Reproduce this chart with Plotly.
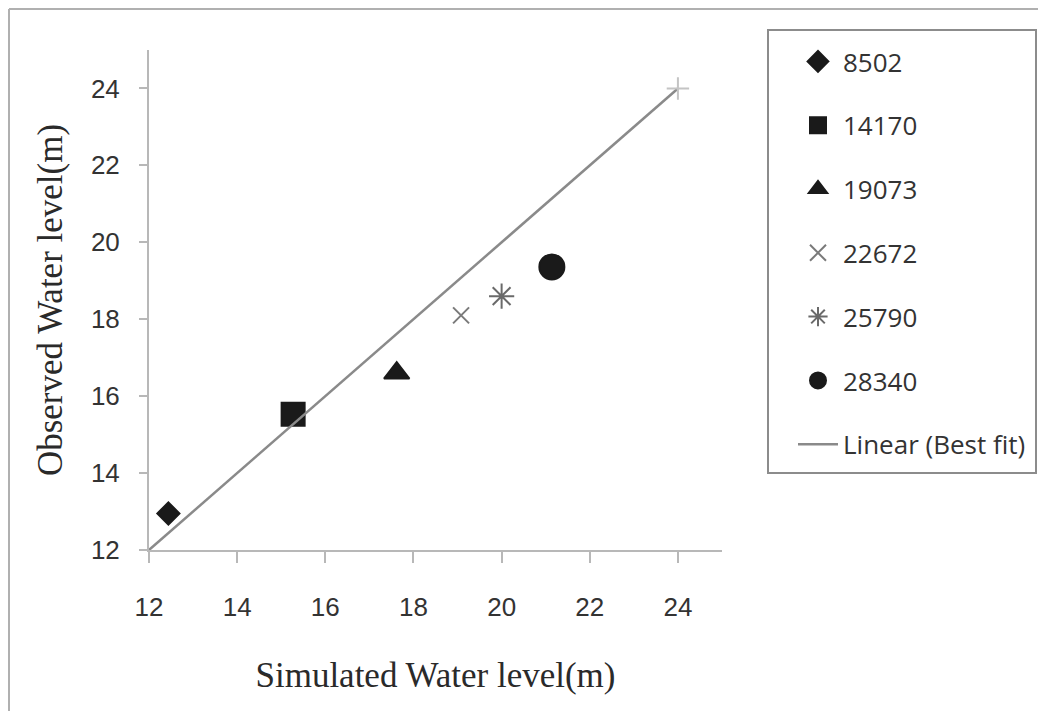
import plotly.graph_objects as go

# Data
series_names = ["8502", "14170", "19073", "22672", "25790", "28340"]
sim_x = [12.44, 15.27, 17.62, 19.08, 20.0, 21.14]
obs_y = [12.95, 15.53, 16.6, 18.1, 18.6, 19.36]
symbols = ["diamond", "square", "triangle-up", "x-thin-open", "asterisk-open", "circle"]
sizes = [17, 23, 22, 16, 21, 25]
colors = ["#1a1a1a", "#1a1a1a", "#1a1a1a", "#7a7a7a", "#6a6a6a", "#1a1a1a"]

fit_name = "Linear (Best fit)"
fit_x = [12, 24]
fit_y = [12, 24]

x_ticks = [12, 14, 16, 18, 20, 22, 24]
y_ticks = [12, 14, 16, 18, 20, 22, 24]

fig = go.Figure()

for i, name in enumerate(series_names):
    fig.add_trace(go.Scatter(
        x=[sim_x[i]], y=[obs_y[i]], mode="markers", name=name,
        legendgroup=name,
        marker=dict(symbol=symbols[i], size=sizes[i], color=colors[i],
                    line=dict(color=colors[i], width=2)),
    ))

fig.add_trace(go.Scatter(
    x=fit_x, y=fit_y, mode="lines", name=fit_name, legendgroup=fit_name,
    line=dict(color="#8a8a8a", width=2.5),
))
fig.add_trace(go.Scatter(
    x=[fit_x[-1]], y=[fit_y[-1]], mode="markers", showlegend=False,
    marker=dict(symbol="cross-thin-open", size=16, color="#c4c4c4",
                line=dict(color="#c4c4c4", width=2)),
    hoverinfo="skip",
))

axis_common = dict(
    showgrid=False, zeroline=False, showline=True, linecolor="#b8b8b8", linewidth=2,
    ticks="outside", tickcolor="#b8b8b8", tickwidth=2,
    tickfont=dict(family="Liberation Sans, Arial, sans-serif", size=26, color="#333333"),
    title_font=dict(family="Liberation Serif, Times New Roman, serif", color="#2a2a2a"),
)

# the page body adds an 8 px offset; the plot area sits at x 149..722, y 50..550 on screen
OFF = 8
PL, PT = 149, 50
PW, PH = 573, 500


def px_x(x):
    return (x - PL) / PW


def px_y(y):
    return (PT + PH - y) / PH


fig.update_layout(
    width=1046 - OFF, height=711 - OFF,
    margin=dict(l=PL - OFF, r=1046 - PL - PW, t=PT - OFF, b=711 - PT - PH),
    paper_bgcolor="white", plot_bgcolor="white",
    xaxis=dict(range=[12, 25], tickvals=x_ticks, ticklen=11, ticklabelstandoff=22,
               title=dict(text="Simulated Water level(m)", standoff=41,
                          font=dict(size=35)),
               **axis_common),
    yaxis=dict(range=[12, 25], tickvals=y_ticks, ticklen=8, ticklabelstandoff=14,
               title=dict(text="Observed Water level(m)", standoff=18,
                          font=dict(size=35)),
               **axis_common),
    legend=dict(
        x=px_x(793), y=px_y(38), xanchor="left", yanchor="top",
        bgcolor="rgba(0,0,0,0)", borderwidth=0,
        font=dict(family="Open Sans, Liberation Sans, sans-serif", size=26, color="#333333"),
        tracegroupgap=27, itemsizing="trace", itemwidth=40, maxheight=700,
    ),
    showlegend=True,
    shapes=[
        # legend box
        dict(type="rect", xref="paper", yref="paper",
             x0=px_x(768), x1=px_x(1036), y0=px_y(473), y1=px_y(30),
             line=dict(color="#8c8c8c", width=2), fillcolor="rgba(0,0,0,0)"),
        # outer frame (left and top edges)
        dict(type="line", xref="paper", yref="paper",
             x0=px_x(9), x1=px_x(9), y0=px_y(720), y1=px_y(9),
             line=dict(color="#b0b0b0", width=2)),
        dict(type="line", xref="paper", yref="paper",
             x0=px_x(9), x1=px_x(1060), y0=px_y(9), y1=px_y(9),
             line=dict(color="#b0b0b0", width=2)),
    ],
)

fig.write_html("out.html")
